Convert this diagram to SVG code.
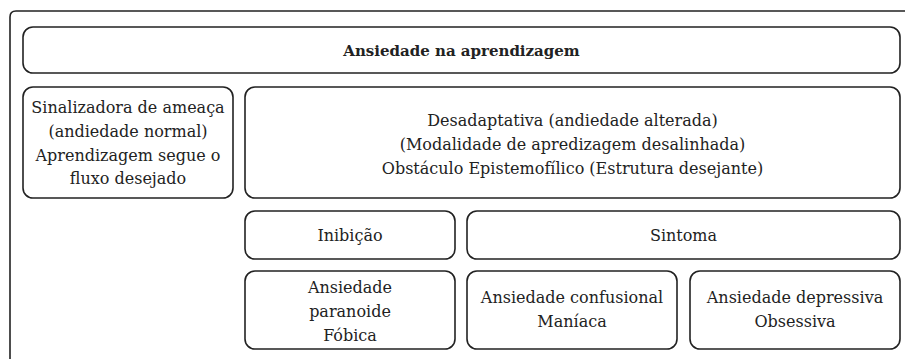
<svg xmlns="http://www.w3.org/2000/svg" width="905" height="361" viewBox="0 0 905 361">
<style>
.box{fill:#fff;stroke:#222;stroke-width:1.6}
.frame{fill:none;stroke:#222;stroke-width:1.6}
.t{font-family:'DejaVu Serif', 'Liberation Serif', serif;font-size:16px;fill:#222;text-anchor:middle}
.title{font-weight:bold;font-size:15px}
</style>
<rect width="905" height="361" fill="#fff"/>
<path class="frame" d="M10,359 L10,17 Q10,11 16,11 L906,11"/>
<g id="title">
<rect class="box" x="23" y="27" width="877" height="46" rx="10"/>
<text class="t title" x="461.5" y="56">Ansiedade na aprendizagem</text>
</g>
<g id="sinalizadora">
<rect class="box" x="23" y="87" width="210" height="111" rx="10"/>
<text class="t" x="128" y="113">Sinalizadora de ameaça</text>
<text class="t" x="128" y="137">(andiedade normal)</text>
<text class="t" x="128" y="161">Aprendizagem segue o</text>
<text class="t" x="128" y="184">fluxo desejado</text>
</g>
<g id="desadaptativa">
<rect class="box" x="245" y="87" width="655" height="111" rx="10"/>
<text class="t" x="572.5" y="126">Desadaptativa (andiedade alterada)</text>
<text class="t" x="572.5" y="150">(Modalidade de apredizagem desalinhada)</text>
<text class="t" x="572.5" y="174">Obstáculo Epistemofílico (Estrutura desejante)</text>
</g>
<g id="inibicao">
<rect class="box" x="245" y="211" width="210" height="48" rx="10"/>
<text class="t" x="350" y="241">Inibição</text>
</g>
<g id="sintoma">
<rect class="box" x="467" y="211" width="433" height="48" rx="10"/>
<text class="t" x="683.5" y="241">Sintoma</text>
</g>
<g id="paranoide">
<rect class="box" x="245" y="271" width="210" height="78" rx="10"/>
<text class="t" x="350" y="293">Ansiedade</text>
<text class="t" x="350" y="317">paranoide</text>
<text class="t" x="350" y="341">Fóbica</text>
</g>
<g id="confusional">
<rect class="box" x="467" y="271" width="210" height="78" rx="10"/>
<text class="t" x="572" y="303">Ansiedade confusional</text>
<text class="t" x="572" y="327">Maníaca</text>
</g>
<g id="depressiva">
<rect class="box" x="690" y="271" width="210" height="78" rx="10"/>
<text class="t" x="795" y="303">Ansiedade depressiva</text>
<text class="t" x="795" y="327">Obsessiva</text>
</g>
<g id="connectors"></g>
</svg>
